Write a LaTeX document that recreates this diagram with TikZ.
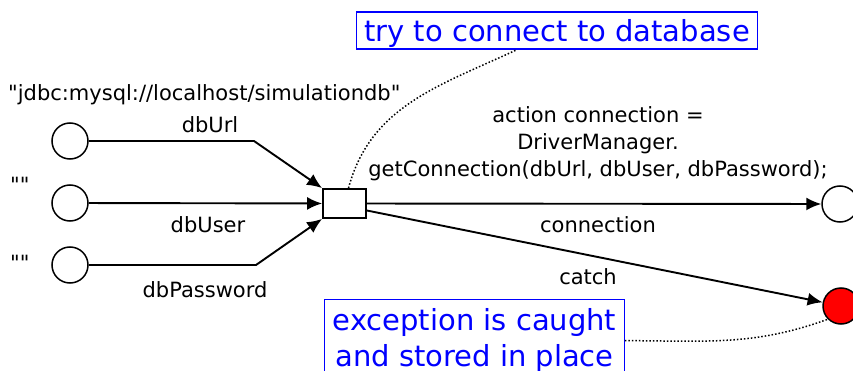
\documentclass[tikz,border=0pt]{standalone}
\usepackage{fontspec}
\setmainfont{DejaVu Sans}[Ligatures=TeXOff]
\usetikzlibrary{arrows.meta,positioning,calc}

\begin{document}
\begin{tikzpicture}[
x=1pt,
y=-1pt,
every node/.style={font=\fontsize{21}{27}\selectfont},
netplace/.style={circle,draw,line width=1.5pt,minimum size=36pt,inner sep=0pt},
netfail/.style={netplace,fill=red},
nettrans/.style={rectangle,draw,line width=1.8pt,minimum width=43pt,minimum height=29pt,inner sep=0pt},
netnote/.style={rectangle,draw=blue,text=blue,line width=1.3pt,font=\fontsize{29}{36}\selectfont,align=center,inner xsep=8pt},
netarr/.style={-{Latex[length=15pt,width=13pt]},line width=1.9pt},
netdot/.style={dotted,line width=1.5pt},
netlbl/.style={inner sep=0pt,align=center}
]
\useasboundingbox (0,0) rectangle (853,371);

\node[netplace] (url) at (70,141) {};
\node[netplace] (user) at (70,203) {};
\node[netplace] (pass) at (70,265) {};
\node[nettrans] (trans) at (344.5,203.5) {};
\node[netplace] (conn) at (840,204) {};
\node[netfail] (exc) at (841,306) {};

\node[netlbl,anchor=west] (urlval) at (8,95) {"jdbc:mysql://localhost/simulationdb"};
\node[netlbl,anchor=west] (userval) at (10,185) {""};
\node[netlbl,anchor=west] (passval) at (10,263) {""};

\node[netnote,inner ysep=0pt,text height=30pt,text depth=7pt,anchor=base] (trynote) at (557,42) {try to connect to database};
\node[netnote,inner ysep=9pt,anchor=north] (catchnote) at (474.5,299) {exception is caught\\and stored in place};

\draw[netarr] (url) -- ++(184,0) -- (trans.north west);
\draw[netarr] (user) -- (trans);
\draw[netarr] (pass) -- ++(186,0) -- (trans.south west);
\draw[netarr] (trans) -- (conn);
\draw[netarr] ([yshift=-7pt]trans.east) -- (exc);

\node[netlbl] (urllbl) at (210,125) {dbUrl};
\node[netlbl] (userlbl) at (208,225) {dbUser};
\node[netlbl] (passlbl) at (205,290) {dbPassword};
\node[netlbl] (action) at (598,144) {action connection =\\DriverManager.\\getConnection(dbUrl, dbUser, dbPassword);};
\node[netlbl] (connlbl) at (598,225) {connection};
\node[netlbl] (catchlbl) at (588,277) {catch};

\draw[netdot] ([xshift=4pt]trans.north) to[out=75,in=205] ([xshift=-40pt]trynote.south);
\draw[netdot] (catchnote.east) to[out=0,in=200] (exc.south west);
\end{tikzpicture}
\end{document}
